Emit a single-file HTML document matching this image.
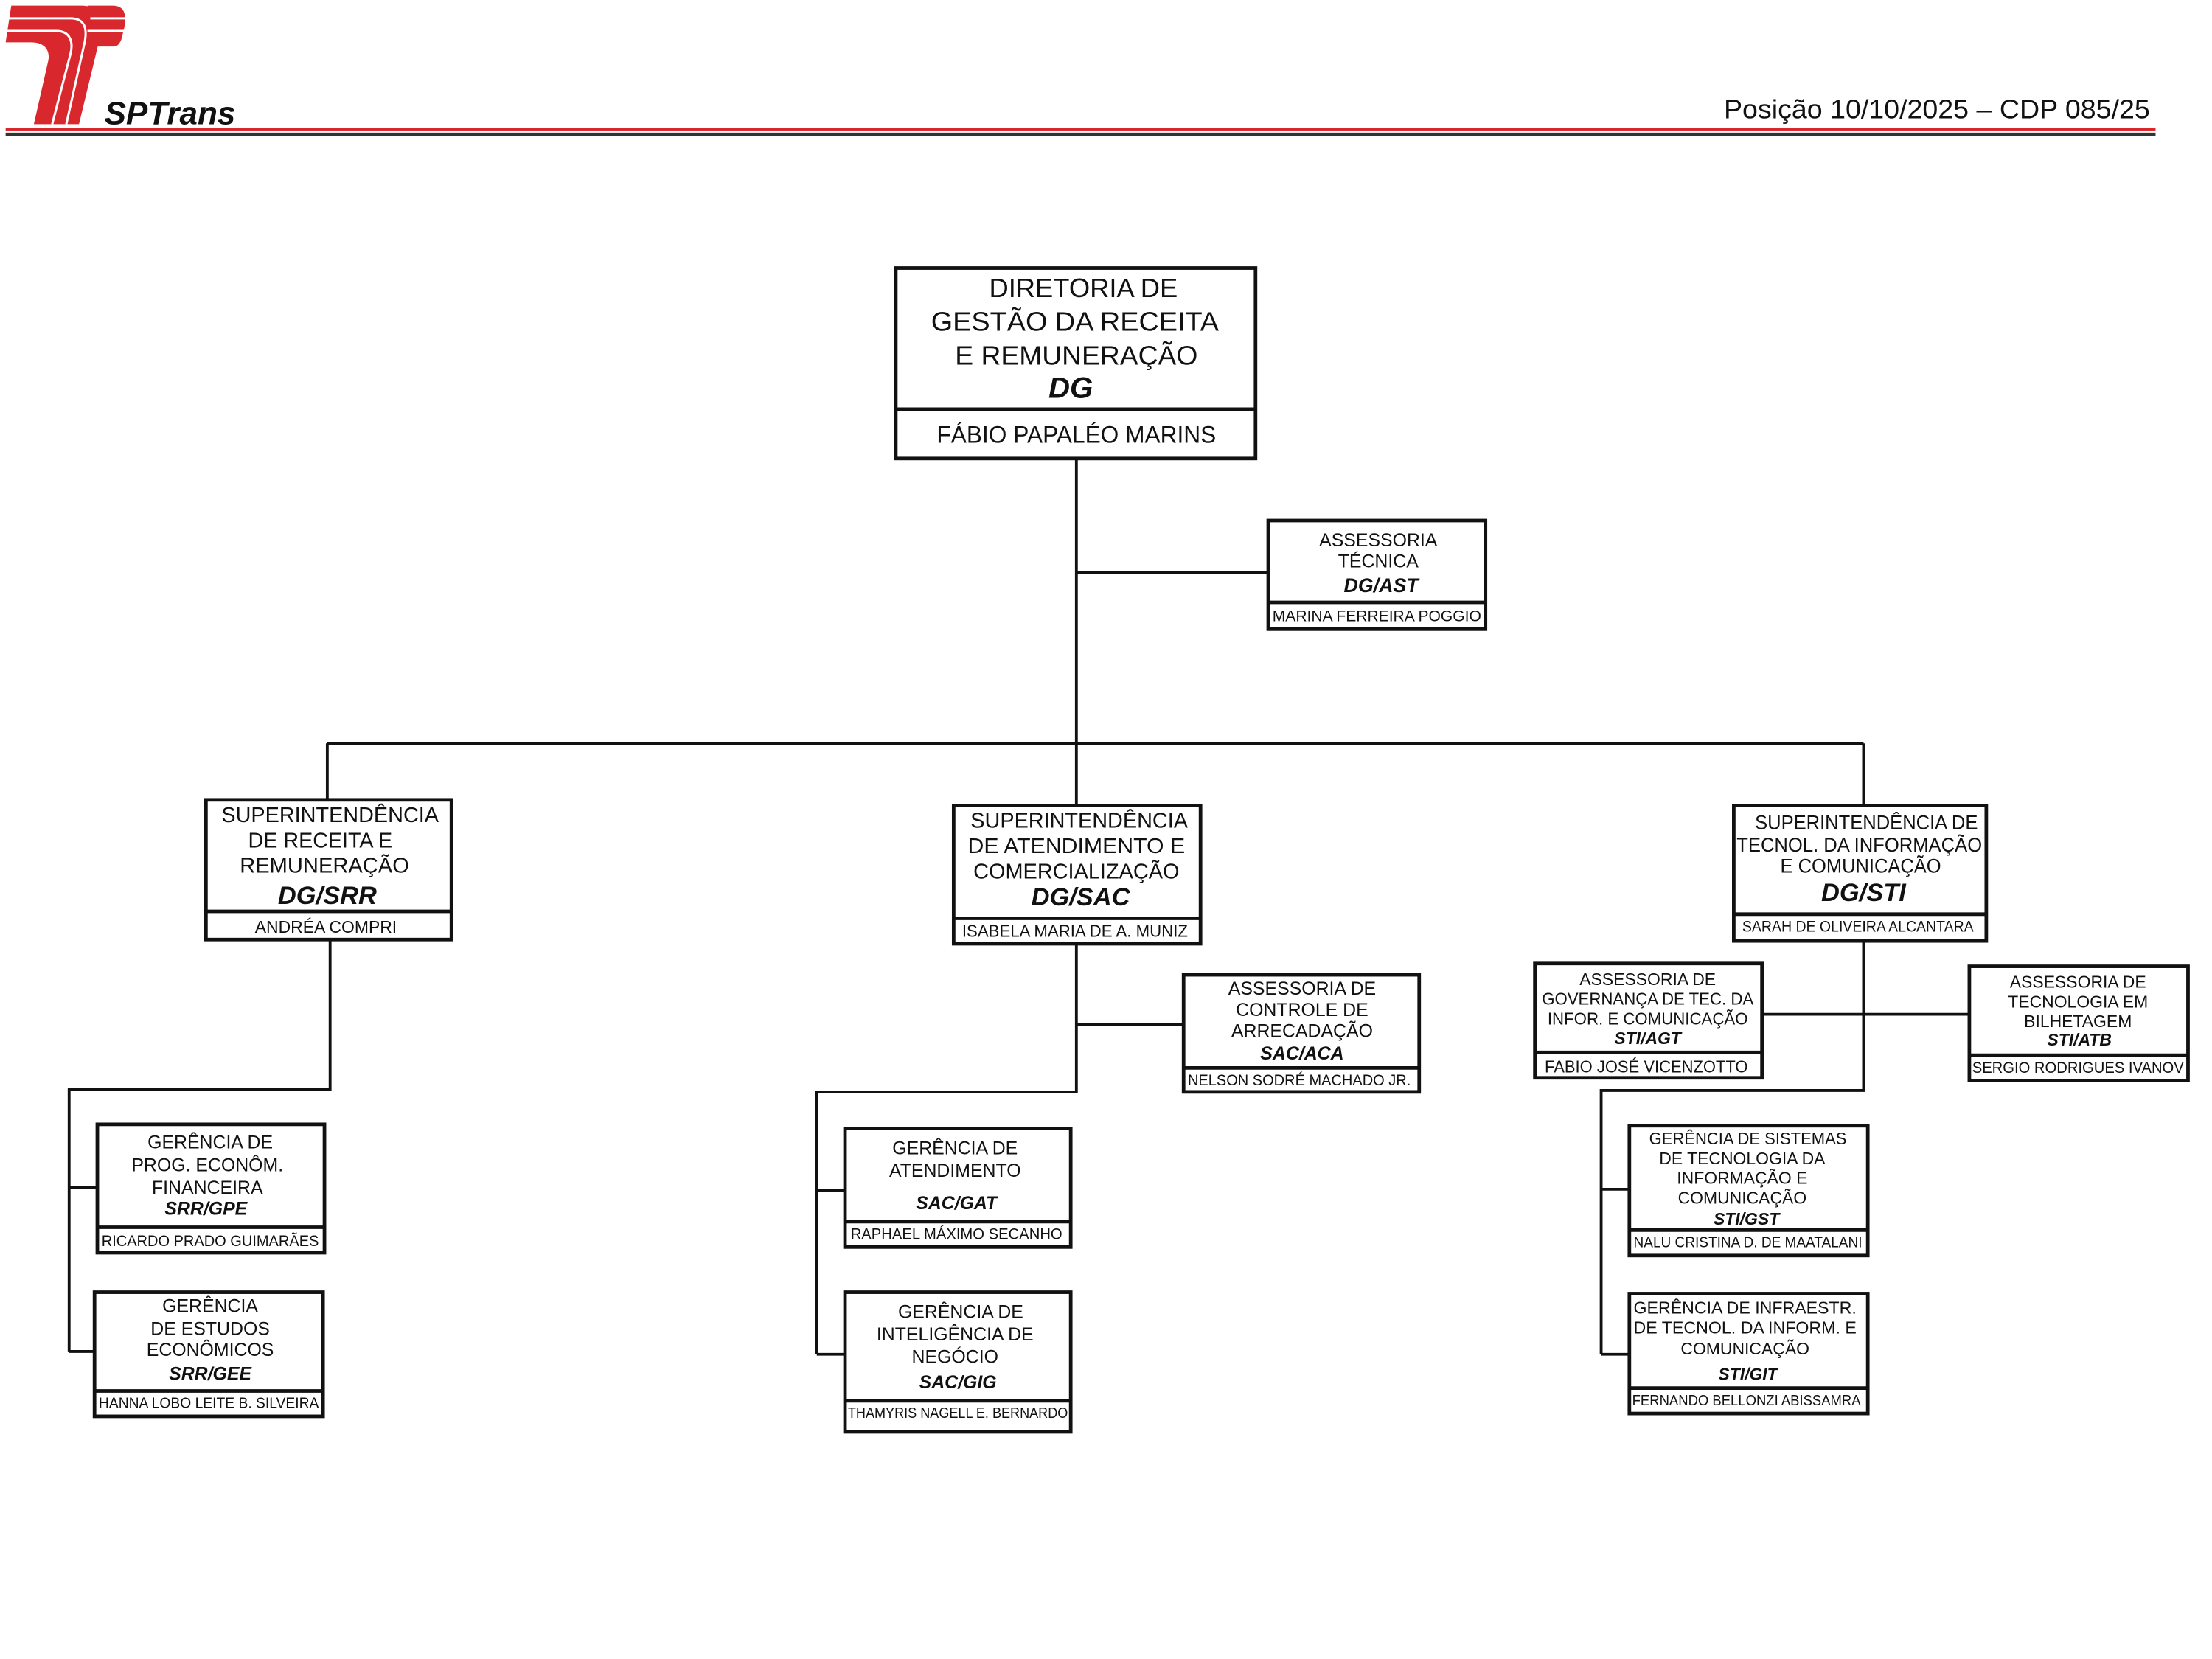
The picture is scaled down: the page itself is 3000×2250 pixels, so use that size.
<!DOCTYPE html>
<html><head><meta charset="utf-8"><style>
html,body{margin:0;padding:0;background:#fff}
svg{display:block}
text{font-family:"Liberation Sans",Arial,sans-serif;fill:#111}
.b{font-weight:bold;font-style:italic}
</style></head><body>
<svg width="3000" height="2250" viewBox="0 0 1568 1176" preserveAspectRatio="none" xmlns="http://www.w3.org/2000/svg">
<!-- logo -->
<g fill="#d9272e">
<path d="M8 4 H58 C70 4 74 14 70 30 L56 88 H24 L34 44 C36 36 32 30 22 30 H4 Z"/>
<path d="M62 4 H80 C88 4 90 10 88 20 L86 28 C84 33 82 33 78 33 H66 Z"/>
</g>
<g stroke="#fff" stroke-width="1.6" fill="none">
<path d="M6 13 H50 C60 13 62 20 60 30 L47 88"/>
<path d="M4 22 H40 C50 22 52 30 50 38 L37 88"/>
<path d="M64 13 H90"/><path d="M62 22 H90"/>
</g>
<text x="74" y="88" font-size="23" class="b">SPTrans</text>
<text x="1524" y="84" font-size="19" text-anchor="end" textLength="302" lengthAdjust="spacingAndGlyphs">Posição 10/10/2025 – CDP 085/25</text>
<rect x="4" y="90.5" width="1524" height="2" fill="#d9272e"/>
<rect x="4" y="94" width="1524" height="2.2" fill="#333"/>

<!-- connectors -->
<g stroke="#111" stroke-width="2" fill="none">
<path d="M763 325 V570"/><path d="M763 406 H899"/>
<path d="M232 527 H1321"/><path d="M232 527 V567"/><path d="M1321 527 V571"/>
<path d="M234 666 V772 H49 V958"/><path d="M49 842 H69"/><path d="M49 958 H67"/>
<path d="M763 669 V774 H579 V960"/><path d="M763 726 H839"/><path d="M579 844 H599"/><path d="M579 960 H599"/>
<path d="M1321 667 V773 H1135 V960"/><path d="M1249 719 H1396"/><path d="M1135 843 H1155"/><path d="M1135 960 H1155"/>
</g>

<!-- boxes -->
<g stroke="#111" stroke-width="2.5" fill="#fff">
<rect x="635" y="190" width="255" height="135"/><path d="M635 290 H890"/>
<rect x="899" y="369" width="154" height="77"/><path d="M899 427 H1053"/>
<rect x="146" y="567" width="174" height="99"/><path d="M146 646 H320"/>
<rect x="676" y="571" width="175" height="98"/><path d="M676 651 H851"/>
<rect x="1229" y="571" width="179" height="96"/><path d="M1229 648 H1408"/>
<rect x="69" y="797" width="161" height="91"/><path d="M69 870 H230"/>
<rect x="67" y="916" width="162" height="88"/><path d="M67 986 H229"/>
<rect x="839" y="691" width="167" height="83"/><path d="M839 757 H1006"/>
<rect x="599" y="800" width="160" height="84"/><path d="M599 866 H759"/>
<rect x="599" y="916" width="160" height="99"/><path d="M599 993 H759"/>
<rect x="1088" y="683" width="161" height="81"/><path d="M1088 746 H1249"/>
<rect x="1396" y="685" width="155" height="81"/><path d="M1396 748 H1551"/>
<rect x="1155" y="798" width="169" height="92"/><path d="M1155 872 H1324"/>
<rect x="1155" y="917" width="169" height="85"/><path d="M1155 984 H1324"/>
</g>

<g text-anchor="middle" dominant-baseline="central" lengthAdjust="spacingAndGlyphs">
<g font-size="19">
<text x="768" y="204">DIRETORIA DE</text><text x="762" y="228" textLength="204" lengthAdjust="spacingAndGlyphs">GESTÃO DA RECEITA</text><text x="763" y="252" textLength="172" lengthAdjust="spacingAndGlyphs">E REMUNERAÇÃO</text>
<text x="759" y="275" class="b" font-size="21">DG</text>
<text x="763" y="308" font-size="17" textLength="198" lengthAdjust="spacingAndGlyphs">FÁBIO PAPALÉO MARINS</text>
</g>
<g font-size="13">
<text x="977" y="383">ASSESSORIA</text><text x="977" y="398">TÉCNICA</text><text x="979" y="415" class="b" font-size="14">DG/AST</text>
<text x="976" y="437" font-size="11" textLength="148" lengthAdjust="spacingAndGlyphs">MARINA FERREIRA POGGIO</text>
</g>
<g font-size="15">
<text x="234" y="578" textLength="154" lengthAdjust="spacingAndGlyphs">SUPERINTENDÊNCIA</text><text x="227" y="596">DE RECEITA E</text><text x="230" y="614" textLength="120" lengthAdjust="spacingAndGlyphs">REMUNERAÇÃO</text>
<text x="232" y="635" class="b" font-size="18">DG/SRR</text><text x="231" y="657" font-size="12">ANDRÉA COMPRI</text>
<text x="765" y="582" textLength="154" lengthAdjust="spacingAndGlyphs">SUPERINTENDÊNCIA</text><text x="763" y="600" textLength="154" lengthAdjust="spacingAndGlyphs">DE  ATENDIMENTO E</text><text x="763" y="618" textLength="146" lengthAdjust="spacingAndGlyphs">COMERCIALIZAÇÃO</text>
<text x="766" y="636" class="b" font-size="18">DG/SAC</text><text x="762" y="660" font-size="12" textLength="160" lengthAdjust="spacingAndGlyphs">ISABELA MARIA DE A. MUNIZ</text>
<text x="1323" y="583" font-size="14" textLength="158" lengthAdjust="spacingAndGlyphs">SUPERINTENDÊNCIA DE</text><text x="1318" y="599" font-size="14" textLength="174" lengthAdjust="spacingAndGlyphs">TECNOL. DA INFORMAÇÃO</text><text x="1319" y="614" font-size="14" textLength="114" lengthAdjust="spacingAndGlyphs">E COMUNICAÇÃO</text>
<text x="1321" y="633" class="b" font-size="18">DG/STI</text><text x="1317" y="657" font-size="11" textLength="164" lengthAdjust="spacingAndGlyphs">SARAH DE OLIVEIRA ALCANTARA</text>
</g>
<g font-size="13">
<text x="149" y="810">GERÊNCIA DE</text><text x="147" y="826">PROG. ECONÔM.</text><text x="147" y="842">FINANCEIRA</text>
<text x="146" y="857" class="b">SRR/GPE</text><text x="149" y="880" font-size="11" textLength="154" lengthAdjust="spacingAndGlyphs">RICARDO PRADO GUIMARÃES</text>
<text x="149" y="926">GERÊNCIA</text><text x="149" y="942">DE  ESTUDOS</text><text x="149" y="957">ECONÔMICOS</text>
<text x="149" y="974" class="b">SRR/GEE</text><text x="148" y="995" font-size="10.5" textLength="156" lengthAdjust="spacingAndGlyphs">HANNA LOBO LEITE B. SILVEIRA</text>
<text x="923" y="701">ASSESSORIA DE</text><text x="923" y="716">CONTROLE DE</text><text x="923" y="731">ARRECADAÇÃO</text>
<text x="923" y="747" class="b">SAC/ACA</text><text x="921" y="766" font-size="11" textLength="158" lengthAdjust="spacingAndGlyphs">NELSON SODRÉ MACHADO JR.</text>
<text x="677" y="814">GERÊNCIA DE</text><text x="677" y="830">ATENDIMENTO</text>
<text x="678" y="853" class="b">SAC/GAT</text><text x="678" y="875" font-size="11" textLength="150" lengthAdjust="spacingAndGlyphs">RAPHAEL MÁXIMO SECANHO</text>
<text x="681" y="930">GERÊNCIA DE</text><text x="677" y="946">INTELIGÊNCIA DE</text><text x="677" y="962">NEGÓCIO</text>
<text x="679" y="980" class="b">SAC/GIG</text><text x="679" y="1002" font-size="10.5" textLength="156" lengthAdjust="spacingAndGlyphs">THAMYRIS NAGELL E. BERNARDO</text>
<text x="1168" y="694" font-size="12">ASSESSORIA DE</text><text x="1168" y="708" font-size="12" textLength="150" lengthAdjust="spacingAndGlyphs">GOVERNANÇA DE TEC. DA</text><text x="1168" y="722" font-size="12" textLength="142" lengthAdjust="spacingAndGlyphs">INFOR. E COMUNICAÇÃO</text>
<text x="1168" y="736" class="b" font-size="12">STI/AGT</text><text x="1167" y="756" font-size="12" textLength="144" lengthAdjust="spacingAndGlyphs">FABIO JOSÉ VICENZOTTO</text>
<text x="1473" y="696" font-size="12">ASSESSORIA DE</text><text x="1473" y="710" font-size="12">TECNOLOGIA EM</text><text x="1473" y="724" font-size="12">BILHETAGEM</text>
<text x="1474" y="737" class="b" font-size="12">STI/ATB</text><text x="1473" y="757" font-size="11" textLength="150" lengthAdjust="spacingAndGlyphs">SERGIO RODRIGUES IVANOV</text>
<text x="1239" y="807" font-size="12" textLength="140" lengthAdjust="spacingAndGlyphs">GERÊNCIA DE SISTEMAS</text><text x="1235" y="821" font-size="12">DE TECNOLOGIA DA</text><text x="1235" y="835" font-size="12">INFORMAÇÃO E</text><text x="1235" y="849" font-size="12">COMUNICAÇÃO</text>
<text x="1238" y="864" class="b" font-size="12">STI/GST</text><text x="1239" y="881" font-size="10.5" textLength="162" lengthAdjust="spacingAndGlyphs">NALU CRISTINA D. DE MAATALANI</text>
<text x="1237" y="927" font-size="12" textLength="158" lengthAdjust="spacingAndGlyphs">GERÊNCIA DE INFRAESTR.</text><text x="1237" y="941" font-size="12" textLength="158" lengthAdjust="spacingAndGlyphs">DE TECNOL. DA INFORM. E</text><text x="1237" y="956" font-size="12">COMUNICAÇÃO</text>
<text x="1239" y="974" class="b" font-size="12">STI/GIT</text><text x="1238" y="993" font-size="10.5" textLength="162" lengthAdjust="spacingAndGlyphs">FERNANDO BELLONZI ABISSAMRA</text>
</g>
</g>
</svg>
</body></html>
